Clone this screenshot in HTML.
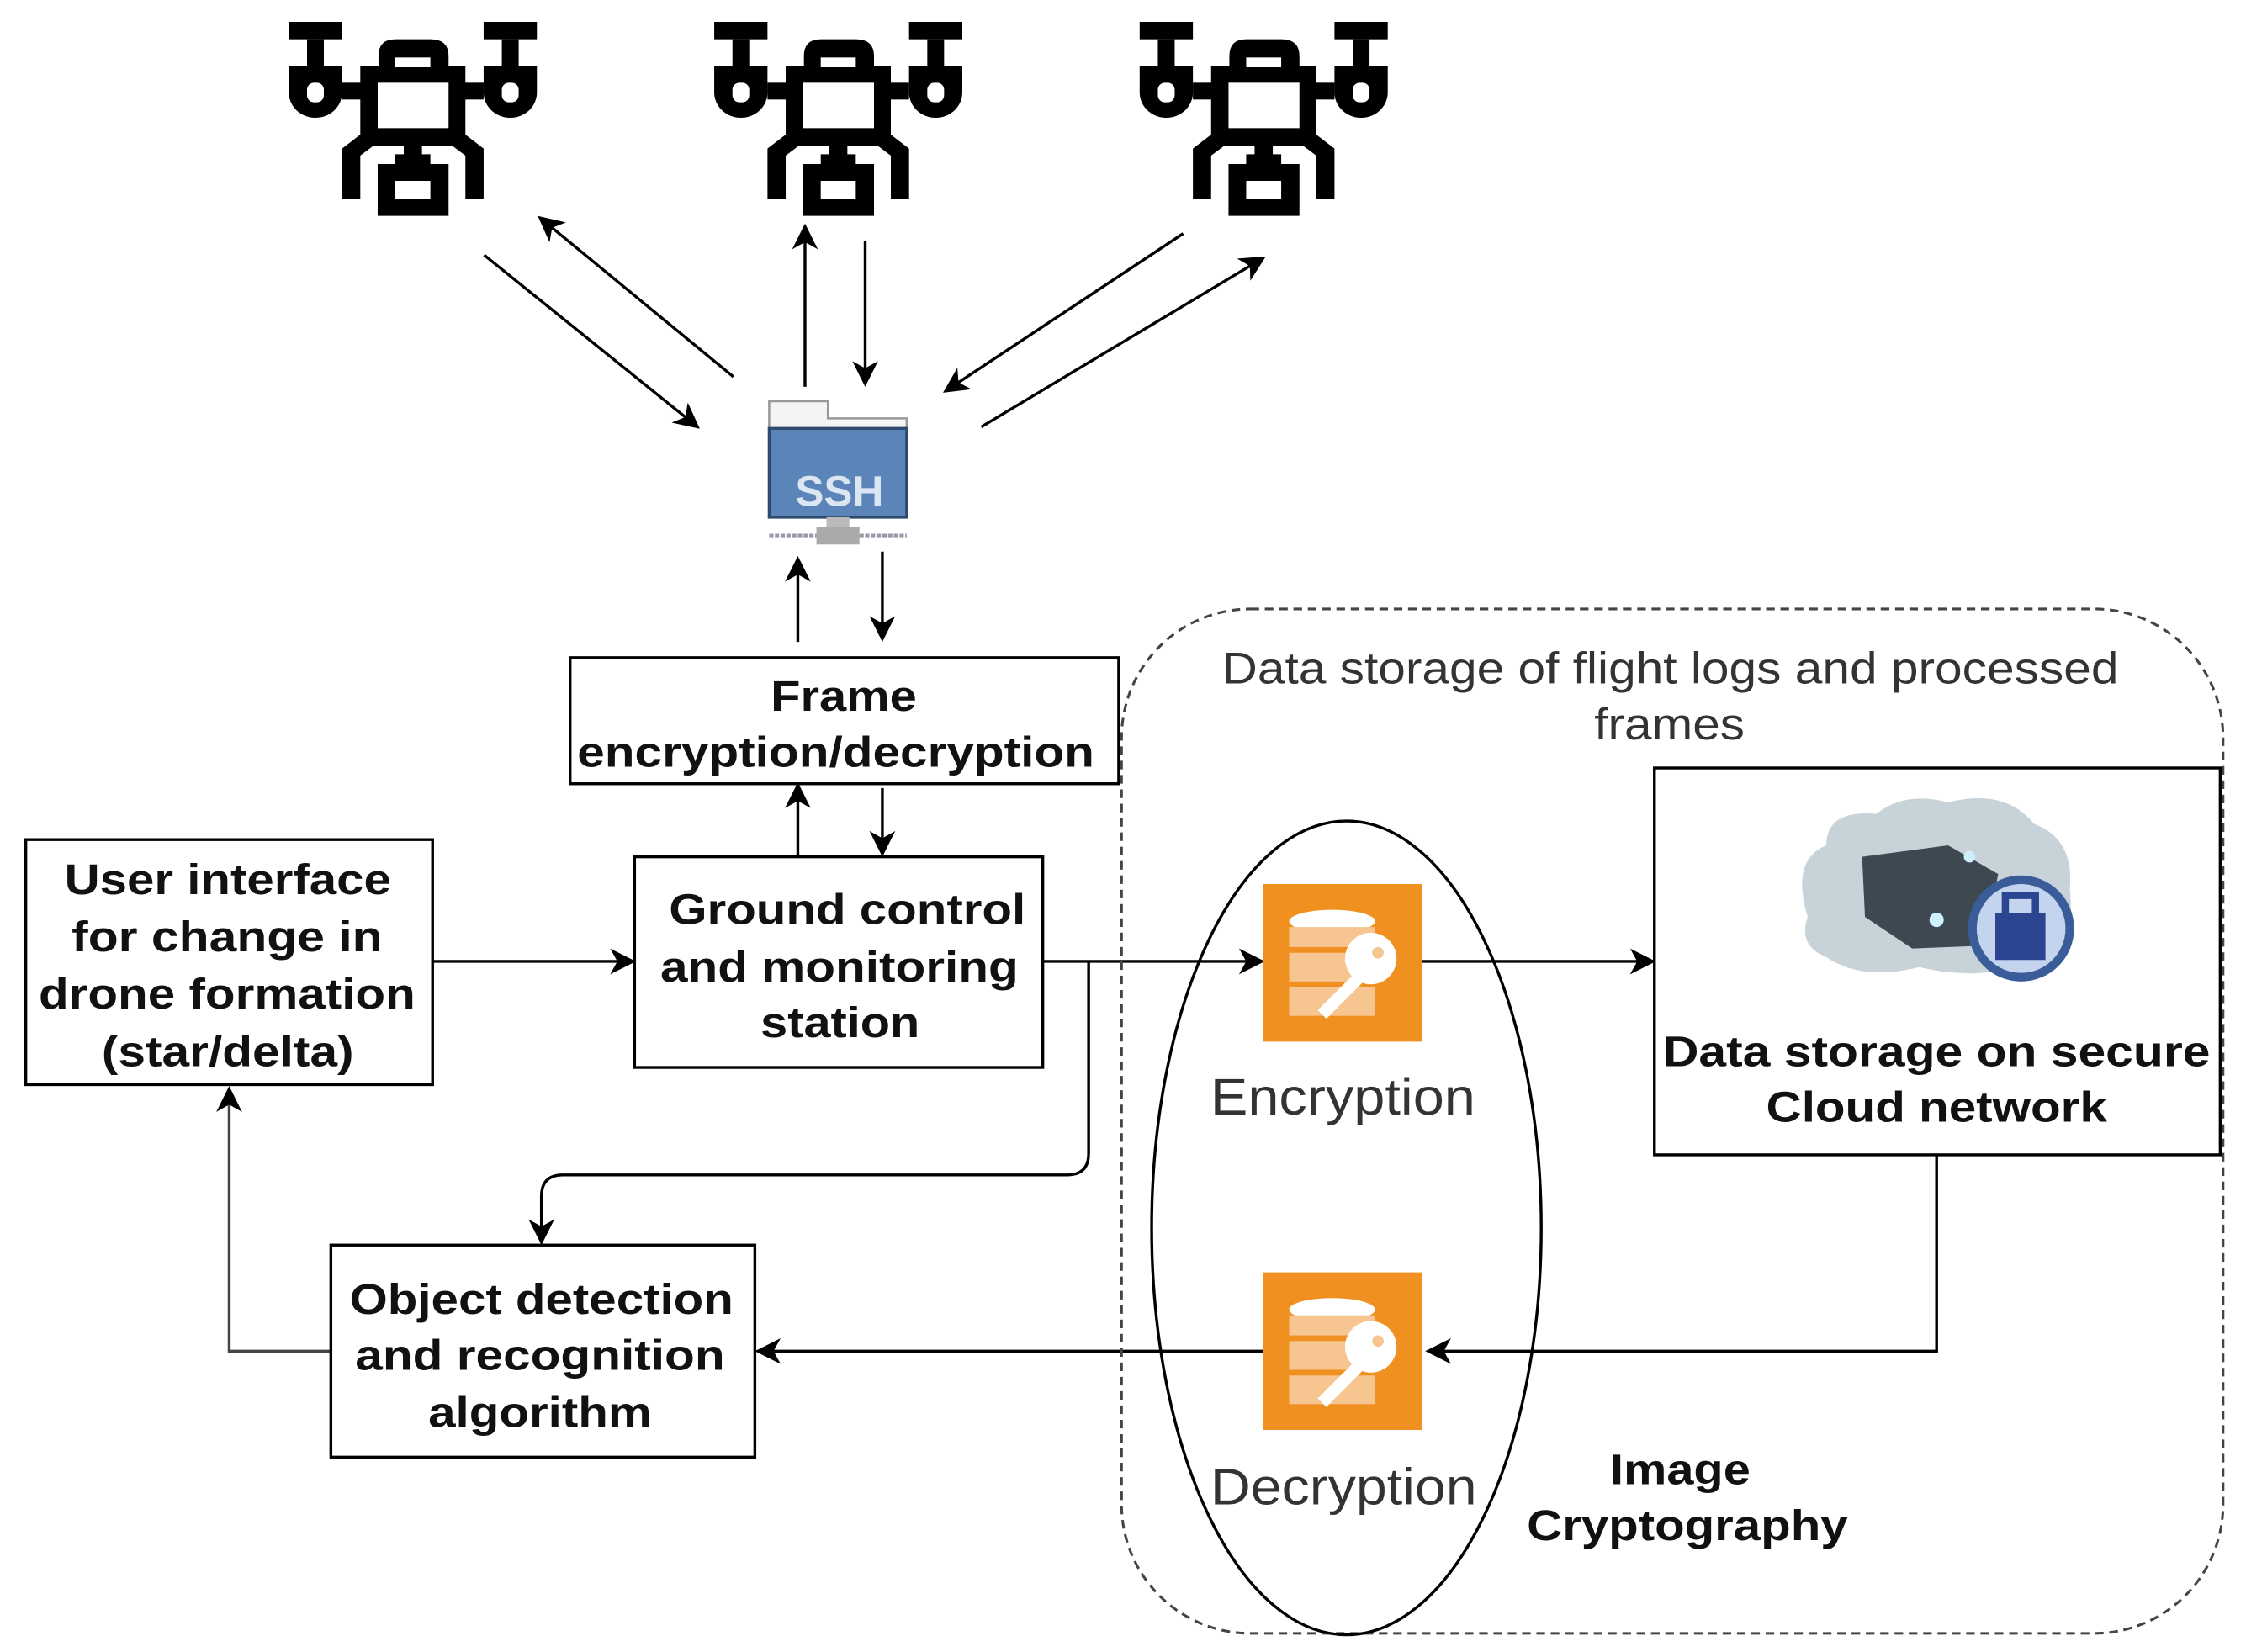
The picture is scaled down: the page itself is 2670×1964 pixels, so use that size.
<!DOCTYPE html>
<html><head><meta charset="utf-8"><style>
html,body{margin:0;padding:0;background:#fff}
svg{display:block}
text{font-family:"Liberation Sans",sans-serif}
.b{font-weight:bold;font-size:30px;fill:#111}
</style></head><body>
<svg width="2670" height="1964" viewBox="0 0 1568 1153" preserveAspectRatio="none" xmlns="http://www.w3.org/2000/svg">
<defs>
<marker id="ah2" markerWidth="18" markerHeight="18" refX="16" refY="9" orient="auto" markerUnits="userSpaceOnUse" viewBox="0 0 18 18">
<path d="M0,0 L18,9 L0,18 L5,9 Z" fill="#000"/></marker>
<g id="drone" transform="scale(0.1957)">
<rect x="40" y="78" width="190" height="62"/>
<rect x="105" y="140" width="60" height="95"/>
<path d="M40 235 H230 V330 A95 90 0 0 1 40 330 Z"/>
<rect x="105" y="295" width="60" height="70" rx="25" fill="#fff"/>
<rect x="230" y="295" width="70" height="60"/>
<rect x="735" y="78" width="190" height="62"/>
<rect x="800" y="140" width="60" height="95"/>
<path d="M735 235 H925 V330 A95 90 0 0 1 735 330 Z"/>
<rect x="800" y="295" width="60" height="70" rx="25" fill="#fff"/>
<rect x="665" y="295" width="70" height="60"/>
<path d="M295 235 H360 V200 Q360 140 420 140 H545 Q610 140 610 200 V235 H670 V520 H295 Z"/>
<rect x="420" y="205" width="125" height="35" fill="#fff"/>
<rect x="357" y="295" width="253" height="162" fill="#fff"/>
<path d="M295 480 L230 530 V710 H295 V555 L355 510 Z"/>
<path d="M670 480 L735 530 V710 H670 V555 L610 510 Z"/>
<rect x="450" y="515" width="65" height="40"/>
<path d="M420 550 H545 V585 H610 V770 H357 V585 H420 Z"/>
<rect x="420" y="645" width="125" height="65" fill="#fff"/>
</g>
<g id="lockicon">
<rect x="0" y="0" width="111" height="110" fill="#EF9021"/>
<ellipse cx="48" cy="26" rx="30" ry="8" fill="#fff"/>
<rect x="18" y="30" width="60" height="14" fill="#F6C590"/>
<rect x="18" y="48" width="60" height="20" fill="#F6C590"/>
<rect x="18" y="72" width="60" height="20" fill="#F6C590"/>
<circle cx="75" cy="52" r="18" fill="#fff"/>
<circle cx="80" cy="48" r="4" fill="#F6C590"/>
<path d="M64 62 L38 88 L44 94 L70 68 Z" fill="#fff"/>
</g>
</defs>
<rect width="1568" height="1153" fill="#fff"/>

<use href="#drone" x="193.8" y="0"/>
<use href="#drone" x="490.8" y="0"/>
<use href="#drone" x="787.8" y="0"/>

<g stroke="#000" stroke-width="2" fill="none" marker-end="url(#ah2)">
<line x1="338" y1="178" x2="487" y2="298"/>
<line x1="512" y1="263" x2="377" y2="152"/>
<line x1="562" y1="270" x2="562" y2="158"/>
<line x1="604" y1="168" x2="604" y2="268"/>
<line x1="826" y1="163" x2="660" y2="273"/>
<line x1="685" y1="298" x2="882" y2="180"/>
<line x1="557" y1="448" x2="557" y2="390"/>
<line x1="616" y1="385" x2="616" y2="446"/>
<line x1="557" y1="597" x2="557" y2="548"/>
<line x1="616" y1="550" x2="616" y2="596"/>
<line x1="302" y1="671" x2="442" y2="671"/>
<line x1="728" y1="671" x2="881" y2="671"/>
<line x1="993" y1="671" x2="1154" y2="671"/>
<path d="M1352 806 V943 H997"/>
<line x1="882" y1="943" x2="529" y2="943"/>
<path d="M760 671 V805 Q760 820 745 820 H393 Q378 820 378 835 V867"/>
<path d="M231 943 H160 V760" stroke="#444"/>
</g>

<g>
<path d="M537 280 H578 V292 H633 V300 H537 Z" fill="#f4f4f4" stroke="#999" stroke-width="1.5"/>
<rect x="537" y="299" width="96" height="62" fill="#5b84b8" stroke="#2e4a6e" stroke-width="2"/>
<text x="586" y="353" text-anchor="middle" font-size="30" font-weight="bold" fill="#dbe6f2">SSH</text>
<rect x="577" y="361" width="16" height="8" fill="#bbb"/>
<rect x="570" y="368" width="30" height="12" fill="#aaa"/>
<line x1="537" y1="374" x2="570" y2="374" stroke="#99a" stroke-width="3" stroke-dasharray="3 1"/>
<line x1="600" y1="374" x2="633" y2="374" stroke="#99a" stroke-width="3" stroke-dasharray="3 1"/>
</g>

<rect x="783" y="425" width="769" height="715" rx="90" fill="none" stroke="#444" stroke-width="1.8" stroke-dasharray="6 4"/>
<text x="853" y="477" font-size="31" fill="#333" textLength="626" lengthAdjust="spacingAndGlyphs">Data storage of flight logs and processed</text>
<text x="1113" y="516" font-size="31" fill="#333" textLength="105" lengthAdjust="spacingAndGlyphs">frames</text>

<ellipse cx="940" cy="857" rx="136" ry="284" fill="none" stroke="#000" stroke-width="2"/>

<g stroke="#000" stroke-width="2" fill="#fff">
<rect x="398" y="459" width="383" height="88"/>
<rect x="443" y="598" width="285" height="147"/>
<rect x="18" y="586" width="284" height="171"/>
<rect x="1155" y="536" width="395" height="270"/>
<rect x="231" y="869" width="296" height="148"/>
</g>
<g lengthAdjust="spacingAndGlyphs">
<text class="b" x="538" y="496" textLength="102" lengthAdjust="spacingAndGlyphs">Frame</text>
<text class="b" x="403" y="535" textLength="361" lengthAdjust="spacingAndGlyphs">encryption/decryption</text>
<text class="b" x="467" y="645" textLength="249" lengthAdjust="spacingAndGlyphs">Ground control</text>
<text class="b" x="461" y="685" textLength="250" lengthAdjust="spacingAndGlyphs">and monitoring</text>
<text class="b" x="531" y="724" textLength="111" lengthAdjust="spacingAndGlyphs">station</text>
<text class="b" x="45" y="624" textLength="228" lengthAdjust="spacingAndGlyphs">User interface</text>
<text class="b" x="50" y="664" textLength="217" lengthAdjust="spacingAndGlyphs">for change in</text>
<text class="b" x="27" y="704" textLength="263" lengthAdjust="spacingAndGlyphs">drone formation</text>
<text class="b" x="71" y="744" textLength="176" lengthAdjust="spacingAndGlyphs">(star/delta)</text>
<text class="b" x="244" y="917" textLength="268" lengthAdjust="spacingAndGlyphs">Object detection</text>
<text class="b" x="248" y="956" textLength="258" lengthAdjust="spacingAndGlyphs">and recognition</text>
<text class="b" x="299" y="996" textLength="156" lengthAdjust="spacingAndGlyphs">algorithm</text>
<text class="b" x="1161" y="744" textLength="382" lengthAdjust="spacingAndGlyphs">Data storage on secure</text>
<text class="b" x="1233" y="783" textLength="238" lengthAdjust="spacingAndGlyphs">Cloud network</text>
<text class="b" x="1124" y="1036" textLength="98" lengthAdjust="spacingAndGlyphs">Image</text>
<text class="b" x="1066" y="1075" textLength="224" lengthAdjust="spacingAndGlyphs">Cryptography</text>
</g>

<use href="#lockicon" x="882" y="617"/>
<use href="#lockicon" x="882" y="888"/>
<text x="845" y="778" font-size="36" fill="#333" textLength="185" lengthAdjust="spacingAndGlyphs">Encryption</text>
<text x="845" y="1050" font-size="36" fill="#333" textLength="186" lengthAdjust="spacingAndGlyphs">Decryption</text>

<g>
<path d="M1262 640 Q1250 600 1275 590 Q1275 565 1310 568 Q1330 552 1360 560 Q1400 550 1420 575 Q1448 585 1445 620 Q1450 660 1420 672 Q1380 685 1340 675 Q1300 685 1275 668 Q1255 660 1262 640 Z" fill="#c7d3d9"/>
<path d="M1300 598 L1360 590 L1395 610 L1385 660 L1335 662 L1302 640 Z" fill="#3d4850"/>
<circle cx="1352" cy="642" r="5" fill="#cfefff"/>
<circle cx="1375" cy="598" r="4" fill="#cfefff"/>
<circle cx="1411" cy="648" r="37" fill="#3a5d9a"/>
<circle cx="1411" cy="648" r="31" fill="#c4d4ee"/>
<rect x="1393" y="637" width="35" height="33" fill="#2c4590"/>
<path d="M1400 637 V625 H1421 V637" fill="none" stroke="#2c4590" stroke-width="5"/>
</g>
</svg>
</body></html>
